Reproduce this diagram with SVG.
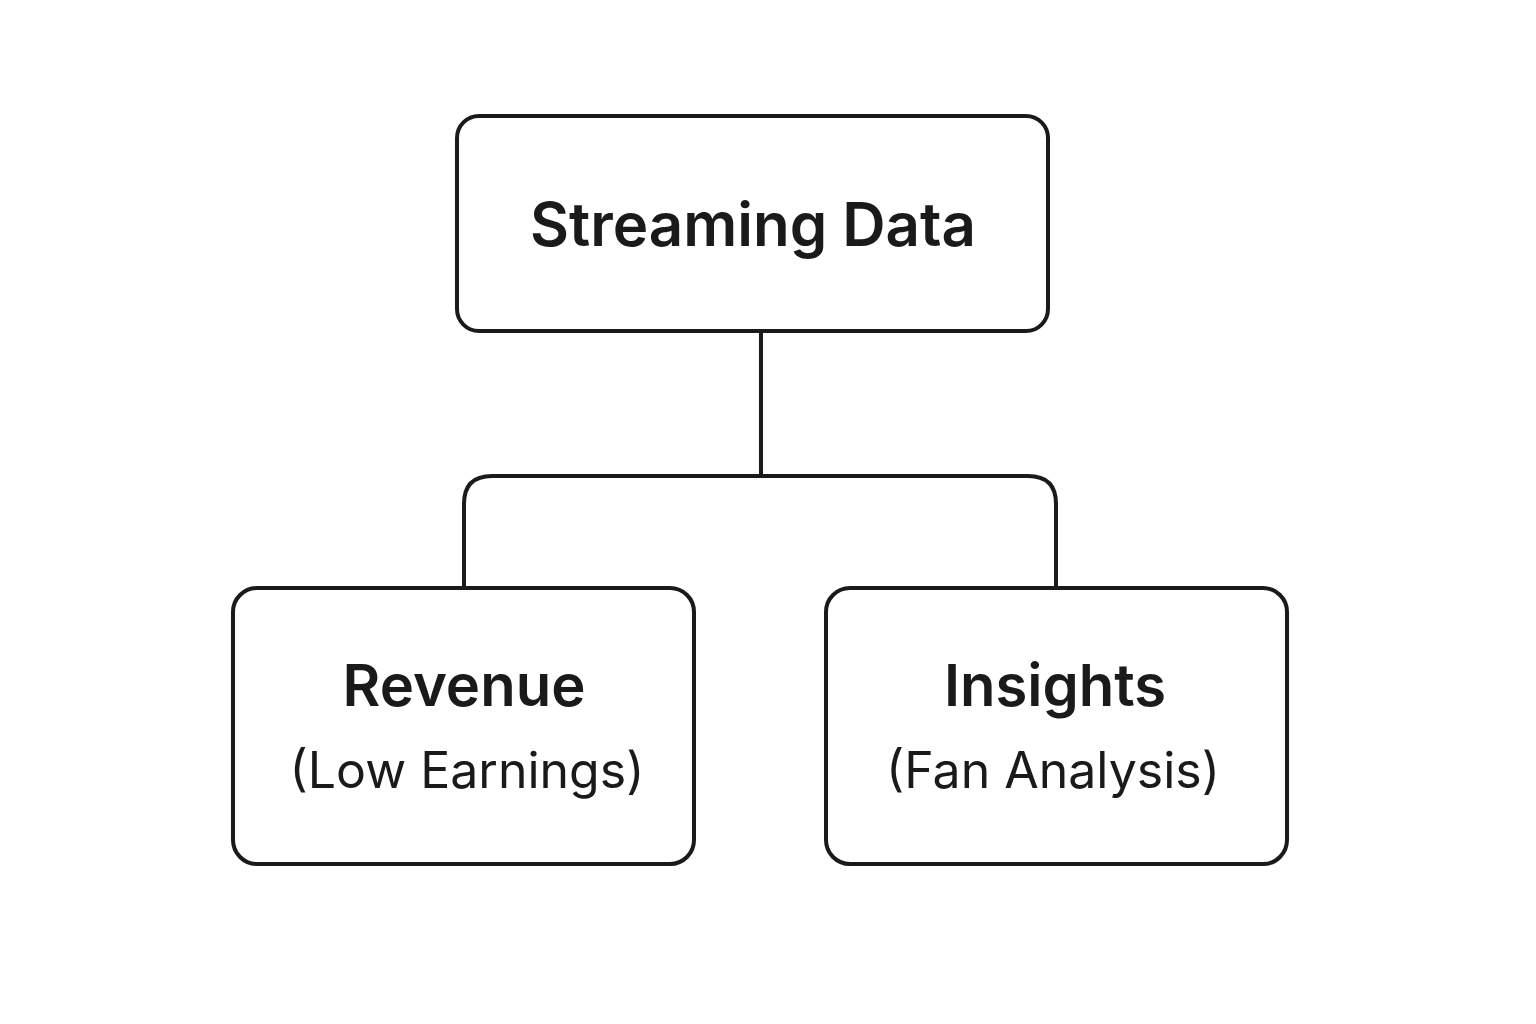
<svg xmlns="http://www.w3.org/2000/svg" width="1536" height="1024" viewBox="0 0 1536 1024">
<style>
.box{fill:#fff;stroke:#1a1a1a;stroke-width:4}
.t{font-family:Inter,"Noto Sans",sans-serif;font-weight:600;fill:#1a1a1a;text-anchor:middle}
.s{font-family:Inter,"Noto Sans",sans-serif;font-weight:400;fill:#1a1a1a;text-anchor:middle}
.c{fill:none;stroke:#1a1a1a;stroke-width:4}
</style>
<rect width="1536" height="1024" fill="#fff"/>
<g id="connectors">
<path class="c" d="M761 331V474M464 586V504Q464 476 492 476H1028Q1056 476 1056 504V586"/>
</g>
<g id="streaming"><rect class="box" x="457" y="116" width="591" height="215" rx="22"/>
<text class="t" x="753" y="246" font-size="60">Streaming Data</text></g>
<g id="revenue"><rect class="box" x="233" y="588" width="461" height="276" rx="24"/>
<text class="t" x="464" y="706" font-size="58">Revenue</text>
<text class="s" x="467" y="788" font-size="50">(Low Earnings)</text></g>
<g id="insights"><rect class="box" x="826" y="588" width="461" height="276" rx="24"/>
<text class="t" x="1055" y="706" font-size="58">Insights</text>
<text class="s" x="1053" y="788" font-size="50">(Fan Analysis)</text></g>
</svg>
